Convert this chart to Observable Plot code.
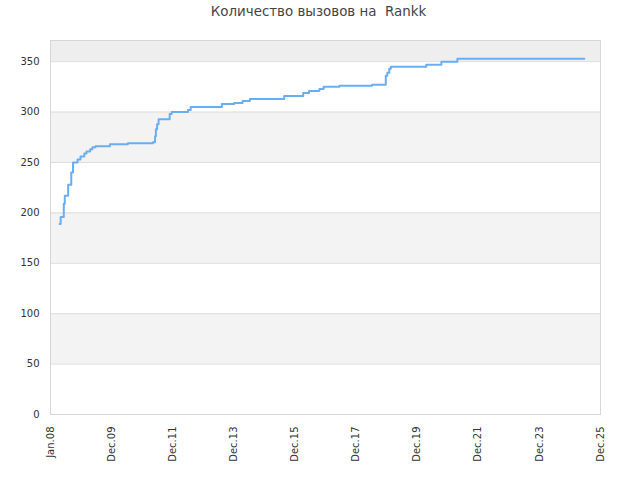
<!DOCTYPE html>
<html>
<head>
<meta charset="utf-8">
<script src="https://cdn.jsdelivr.net/npm/d3@7"></script>
<script src="https://cdn.jsdelivr.net/npm/@observablehq/plot@0.6"></script>
<style>
  body { margin: 0; background: #fff; }
  svg { font-family: "DejaVu Sans", sans-serif; }
</style>
</head>
<body>
<div id="chart"></div>
<script>
const title = "Количество вызовов на  Rankk";

const dates = [
  "2008-04-18","2008-05-01","2008-06-07","2008-06-19","2008-07-29","2008-09-04",
  "2008-09-25","2008-11-18","2008-12-23","2009-02-06","2009-03-04","2009-04-17",
  "2009-05-14","2009-06-19","2009-12-08","2010-07-09","2011-05-03","2011-05-29",
  "2011-06-08","2011-06-22","2011-07-10","2011-11-19","2011-12-13","2012-06-24",
  "2012-07-26","2013-08-01","2013-12-25","2014-04-04","2014-06-30","2015-08-13",
  "2016-03-26","2016-06-03","2016-10-04","2016-11-24","2017-05-30","2018-06-24",
  "2018-12-03","2018-12-21","2019-01-14","2019-02-01","2020-03-29","2020-09-25",
  "2021-04-03","2025-05-23"
];
const calls = [
  189, 196, 209, 217, 228, 240,
  250, 253, 256, 259, 261, 263,
  265, 266, 268, 269, 270, 276,
  283, 288, 293, 298, 300, 302,
  305, 308, 309, 311, 313, 316,
  319, 321, 323, 325, 326, 327,
  336, 339, 343, 345, 347, 350,
  353, 353
];

const xStart = "2008-01-01";
const xEnd = "2025-12-01";
const tickLabels = ["Jan.08","Dec.09","Dec.11","Dec.13","Dec.15","Dec.17","Dec.19","Dec.21","Dec.23","Dec.25"];
const yTicks = [0, 50, 100, 150, 200, 250, 300, 350];
const yMax = 371;
const bandLow = [50, 150, 250];
const bandHigh = [100, 200, 300];

const data = dates.map((d, i) => ({date: new Date(d), value: calls[i]}));
const t0 = +new Date(xStart), t1 = +new Date(xEnd);
const tickDates = tickLabels.map((_, i) => new Date(t0 + i * (t1 - t0) / (tickLabels.length - 1)));
const labelByTime = new Map(tickDates.map((d, i) => [+d, tickLabels[i]]));
const bands = bandLow.map((lo, i) => ({lo, hi: bandHigh[i]}));

const chart = Plot.plot({
  width: 640,
  height: 480,
  marginTop: 40,
  marginLeft: 50,
  marginRight: 40,
  marginBottom: 66,
  style: {fontFamily: "DejaVu Sans, sans-serif", fontSize: "10px", color: "#333", background: "#fff"},
  x: {type: "time", domain: [new Date(xStart), new Date(xEnd)]},
  y: {domain: [0, yMax]},
  marks: [
    Plot.rectY(bands, {x1: new Date(xStart), x2: new Date(xEnd), y1: "lo", y2: "hi", fill: "#f3f3f3"}),
    Plot.rectY([{lo: 350, hi: yMax}], {x1: new Date(xStart), x2: new Date(xEnd), y1: "lo", y2: "hi", fill: "#eeeeee"}),
    Plot.ruleY(yTicks.filter(v => v > 0), {stroke: "#dddddd", strokeWidth: 1}),
    Plot.frame({stroke: "#d6d6d6"}),
    Plot.axisY({ticks: yTicks, tickSize: 0, tickPadding: 11, label: null, fill: "#333"}),
    Plot.axisX({ticks: tickDates, tickSize: 0, tickPadding: 12, tickRotate: -90, label: null,
                tickFormat: d => labelByTime.get(+d), fill: "#333"}),
    Plot.line(data, {x: "date", y: "value", curve: "step-after", stroke: "#6aaef0", strokeWidth: 2}),
    Plot.text([title], {frameAnchor: "top", dy: -34, dx: -7, fontSize: 13.4, fill: "#444"})
  ]
});
document.getElementById("chart").appendChild(chart);
</script>
</body>
</html>
